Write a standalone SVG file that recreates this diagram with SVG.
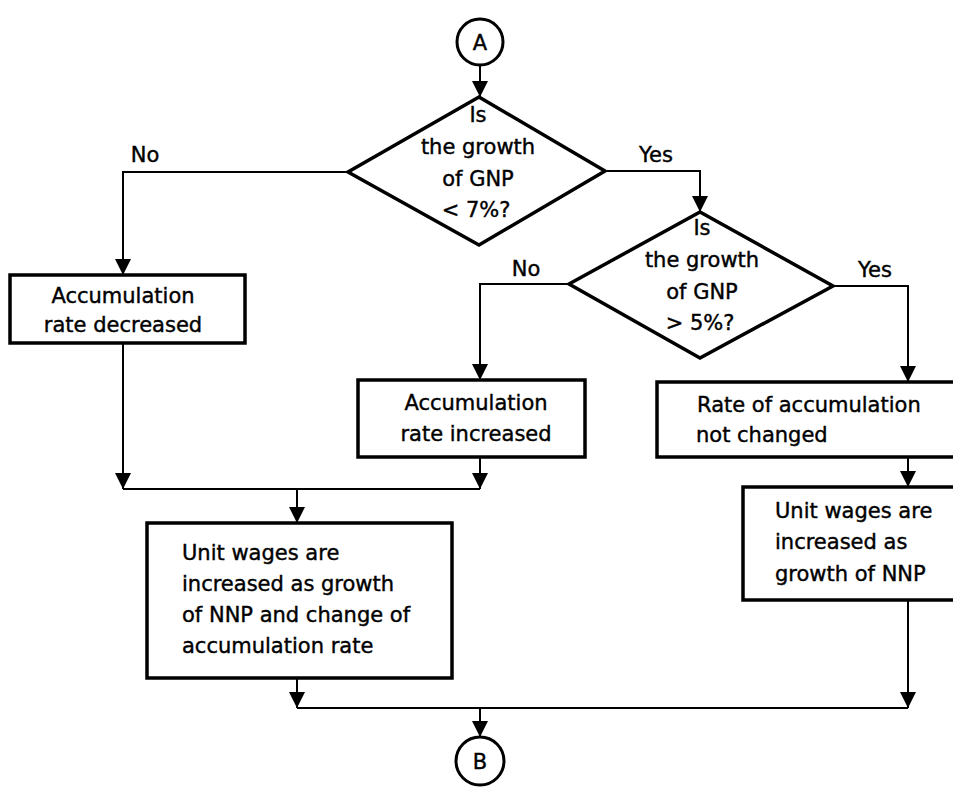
<svg xmlns="http://www.w3.org/2000/svg" width="953" height="789" viewBox="0 0 953 789">
  <defs>
    <style>
      .shape { fill: #fff; stroke: #000; stroke-width: 3.5; stroke-linejoin: miter; }
      .term { fill: #fff; stroke: #000; stroke-width: 3; }
      .wire { fill: none; stroke: #000; stroke-width: 2; }
      text { font-family: "DejaVu Sans", "Liberation Sans", sans-serif; font-size: 21px; fill: #000; stroke: #000; stroke-width: 0.4; }
      .c { text-anchor: middle; }
    </style>
    <marker id="arrow" viewBox="0 0 10 10" refX="10" refY="5" markerWidth="16" markerHeight="17" markerUnits="userSpaceOnUse" orient="auto">
      <path d="M0,0 L10,5 L0,10 Z" fill="#000"/>
    </marker>
  </defs>
  <rect width="953" height="789" fill="#fff"/>

  <!-- connectors -->
  <g id="connectors">
    <path class="wire" d="M480,65 V97" marker-end="url(#arrow)"/>
    <path class="wire" d="M348,172 H123 V275" marker-end="url(#arrow)"/>
    <path class="wire" d="M605,171 H700 V212" marker-end="url(#arrow)"/>
    <path class="wire" d="M569,284 H480 V380" marker-end="url(#arrow)"/>
    <path class="wire" d="M833,286 H908 V382" marker-end="url(#arrow)"/>
    <path class="wire" d="M123,343 V489" marker-end="url(#arrow)"/>
    <path class="wire" d="M480,457 V489" marker-end="url(#arrow)"/>
    <path class="wire" d="M123,489 H480"/>
    <path class="wire" d="M297,489 V523" marker-end="url(#arrow)"/>
    <path class="wire" d="M908,457 V487" marker-end="url(#arrow)"/>
    <path class="wire" d="M908,600 V708" marker-end="url(#arrow)"/>
    <path class="wire" d="M297,678 V708" marker-end="url(#arrow)"/>
    <path class="wire" d="M297,708 H908"/>
    <path class="wire" d="M480,708 V737" marker-end="url(#arrow)"/>
    <text class="c" x="145" y="162">No</text>
    <text class="c" x="656" y="162">Yes</text>
    <text class="c" x="526" y="276">No</text>
    <text class="c" x="875" y="277">Yes</text>
  </g>

  <!-- start connector -->
  <g id="start-a">
    <circle class="term" cx="480" cy="42" r="23"/>
    <text class="c" x="480" y="50">A</text>
  </g>

  <!-- first decision -->
  <g id="decision-gnp7">
    <polygon class="shape" points="479,97 605,171 479,245 348,172"/>
    <text class="c" x="478" y="122">Is</text>
    <text class="c" x="478" y="154">the growth</text>
    <text class="c" x="478" y="186">of GNP</text>
    <text class="c" x="476" y="217">&lt; 7%?</text>
  </g>

  <!-- second decision -->
  <g id="decision-gnp5">
    <polygon class="shape" points="700,212 833,286 700,358 569,284"/>
    <text class="c" x="702" y="235">Is</text>
    <text class="c" x="702" y="267">the growth</text>
    <text class="c" x="702" y="299">of GNP</text>
    <text class="c" x="700" y="330">&gt; 5%?</text>
  </g>

  <g id="box-decreased">
    <rect class="shape" x="10" y="275" width="235" height="68"/>
    <text class="c" x="123" y="303">Accumulation</text>
    <text class="c" x="123" y="332">rate decreased</text>
  </g>

  <g id="box-increased">
    <rect class="shape" x="358" y="380" width="227" height="77"/>
    <text class="c" x="476" y="410">Accumulation</text>
    <text class="c" x="476" y="441">rate increased</text>
  </g>

  <g id="box-unchanged">
    <rect class="shape" x="657" y="382" width="310" height="75"/>
    <text x="697" y="412">Rate of accumulation</text>
    <text x="696" y="442">not changed</text>
  </g>

  <g id="box-wages-nnp">
    <rect class="shape" x="743" y="487" width="224" height="113"/>
    <text x="775" y="518">Unit wages are</text>
    <text x="775" y="549">increased as</text>
    <text x="775" y="581">growth of NNP</text>
  </g>

  <g id="box-wages-change">
    <rect class="shape" x="147" y="523" width="305" height="155"/>
    <text x="182" y="560">Unit wages are</text>
    <text x="182" y="591">increased as growth</text>
    <text x="182" y="622">of NNP and change of</text>
    <text x="182" y="653">accumulation rate</text>
  </g>

  <!-- end connector -->
  <g id="end-b">
    <circle class="term" cx="480" cy="761" r="24"/>
    <text class="c" x="480" y="769">B</text>
  </g>
</svg>
